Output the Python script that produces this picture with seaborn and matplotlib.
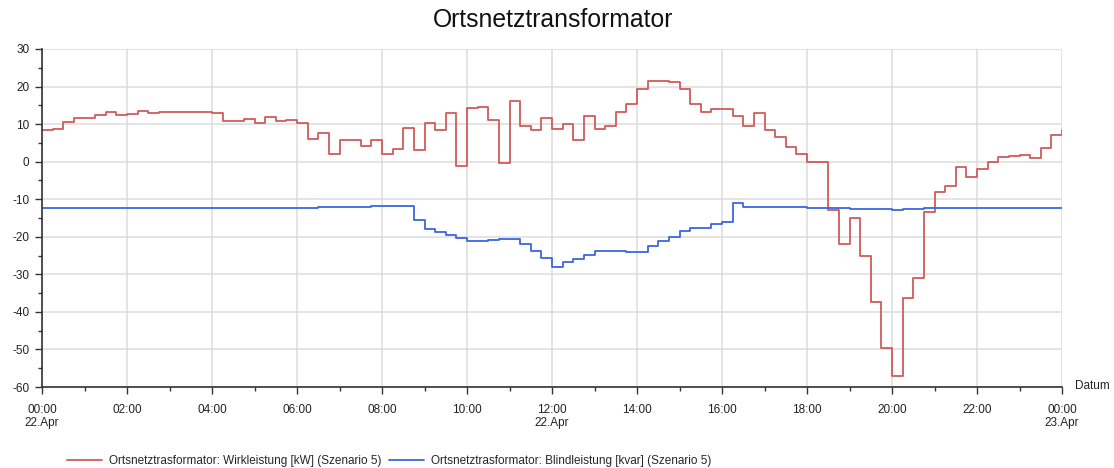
import numpy as np
import pandas as pd
import matplotlib
matplotlib.use("Agg")
import matplotlib.pyplot as plt
import seaborn as sns
from matplotlib.lines import Line2D
from matplotlib.ticker import MultipleLocator

# Quarter-hour readings, 22.Apr 00:00 - 23.Apr 00:00 (last value = 24:00)
wirkleistung_kw = [
    8.4, 8.6, 10.6, 11.5, 11.5, 12.4, 13.3, 12.4,      # 00:00 - 01:45
    12.6, 13.6, 12.9, 13.1, 13.3, 13.3, 13.3, 13.3,    # 02:00 - 03:45
    12.9, 10.9, 10.9, 11.3, 10.2, 11.8, 10.7, 11.1,    # 04:00 - 05:45
    10.4, 6.0, 7.5, 2.0, 5.8, 5.8, 4.2, 5.8,           # 06:00 - 07:45
    2.0, 3.3, 8.9, 3.1, 10.4, 8.3, 13.0, -1.1,         # 08:00 - 09:45
    14.2, 14.6, 11.1, -0.4, 16.2, 9.5, 8.3, 11.5,      # 10:00 - 11:45
    8.6, 10.0, 5.9, 12.2, 8.6, 9.5, 13.3, 15.4,        # 12:00 - 13:45
    19.3, 21.6, 21.5, 21.2, 19.4, 15.4, 13.3, 14.0,    # 14:00 - 15:45
    14.0, 12.2, 9.5, 12.9, 8.4, 6.7, 4.0, 2.0,         # 16:00 - 17:45
    -0.1, -0.2, -13.0, -21.9, -15.1, -25.1, -37.3, -49.7,  # 18:00 - 19:45
    -57.1, -36.4, -30.9, -13.3, -8.2, -6.4, -1.3, -4.2,    # 20:00 - 21:45
    -2.0, 0.0, 1.2, 1.5, 1.8, 0.9, 3.6, 7.1,           # 22:00 - 23:45
    8.3,
]

blindleistung_kvar = [
    -12.4, -12.4, -12.4, -12.4, -12.4, -12.4, -12.4, -12.4,   # 00:00 - 01:45
    -12.4, -12.4, -12.4, -12.4, -12.4, -12.4, -12.4, -12.4,   # 02:00 - 03:45
    -12.4, -12.4, -12.4, -12.4, -12.4, -12.4, -12.4, -12.4,   # 04:00 - 05:45
    -12.3, -12.3, -12.2, -12.2, -12.1, -12.0, -12.0, -11.9,   # 06:00 - 07:45
    -11.9, -11.8, -11.8, -15.5, -17.9, -18.8, -19.5, -20.4,   # 08:00 - 09:45
    -21.0, -21.0, -20.9, -20.7, -20.5, -21.9, -23.7, -25.7,   # 10:00 - 11:45
    -28.0, -26.8, -25.9, -24.8, -23.8, -23.8, -23.9, -24.0,   # 12:00 - 13:45
    -24.1, -22.4, -21.1, -20.0, -18.4, -17.7, -17.6, -16.6,   # 14:00 - 15:45
    -16.0, -11.1, -12.0, -12.0, -12.1, -12.1, -12.2, -12.2,   # 16:00 - 17:45
    -12.3, -12.3, -12.4, -12.4, -12.5, -12.5, -12.6, -12.7,   # 18:00 - 19:45
    -12.9, -12.7, -12.5, -12.4, -12.4, -12.4, -12.4, -12.4,   # 20:00 - 21:45
    -12.4, -12.4, -12.4, -12.4, -12.4, -12.4, -12.4, -12.4,   # 22:00 - 23:45
    -12.4,
]

hours = [i / 4 for i in range(len(wirkleistung_kw))]

series_names = [
    "Ortsnetztrasformator: Wirkleistung [kW] (Szenario 5)",
    "Ortsnetztrasformator: Blindleistung [kvar] (Szenario 5)",
]
series_colors = ["#d05a5a", "#3c66e0"]

tick_hours = list(range(0, 25, 2))
tick_labels = [
    "00:00\n22.Apr", "02:00", "04:00", "06:00", "08:00", "10:00",
    "12:00\n22.Apr", "14:00", "16:00", "18:00", "20:00", "22:00",
    "00:00\n23.Apr",
]

df = pd.concat([
    pd.DataFrame({"Stunde": hours, "Wert": wirkleistung_kw, "Reihe": series_names[0]}),
    pd.DataFrame({"Stunde": hours, "Wert": blindleistung_kvar, "Reihe": series_names[1]}),
])

sns.set_theme(style="white")
plt.rcParams["font.family"] = ["Liberation Sans", "DejaVu Sans"]
plt.rcParams["axes.unicode_minus"] = False

fig = plt.figure(figsize=(11.14, 4.68), dpi=100)
ax = fig.add_axes([42 / 1114, 1 - 387 / 468, 1020 / 1114, 338 / 468])

sns.lineplot(
    data=df, x="Stunde", y="Wert", hue="Reihe",
    palette=dict(zip(series_names, series_colors)),
    drawstyle="steps-post", linewidth=1.3, legend=False, ax=ax,
    estimator=None, sort=False,
)

ax.set_xlim(0, 24)
ax.set_ylim(-60, 30)
ax.set_xticks(tick_hours)
ax.set_xticklabels(tick_labels)
ax.xaxis.set_minor_locator(MultipleLocator(1))
ax.yaxis.set_major_locator(MultipleLocator(10))
ax.yaxis.set_minor_locator(MultipleLocator(5))

ax.grid(True, which="major", color="#dcdcdc", linewidth=1.1)
ax.set_axisbelow(True)
for side in ("top", "right"):
    ax.spines[side].set_visible(False)
for side in ("left", "bottom"):
    ax.spines[side].set_color("#333333")
    ax.spines[side].set_linewidth(1.2)

ax.tick_params(axis="both", which="major", direction="out", length=5, width=1,
               color="#333333", labelsize=8.5, labelcolor="#222222",
               left=True, bottom=True)
ax.tick_params(axis="x", which="major", pad=7)
ax.tick_params(axis="y", which="major", pad=4)
ax.tick_params(axis="both", which="minor", direction="out", length=3, width=1,
               color="#333333", left=True, bottom=True)
ax.set_xlabel("")
ax.set_ylabel("")

fig.text(553 / 1114, 1 - 20 / 468, "Ortsnetztransformator", ha="center", va="center",
         fontsize=17.8, color="#111111")
fig.text(1075 / 1114, 1 - 386 / 468, "Datum", ha="left", va="center",
         fontsize=8.5, color="#222222")

handles = [Line2D([], [], color=c, linewidth=1.3) for c in series_colors]
fig.legend(handles, series_names, loc="center", bbox_to_anchor=(389 / 1114, 1 - 461 / 468),
           ncol=2, frameon=False, fontsize=8.5, handlelength=3.0, handletextpad=0.6,
           columnspacing=0.6)

fig.savefig("out.png", dpi=100)
